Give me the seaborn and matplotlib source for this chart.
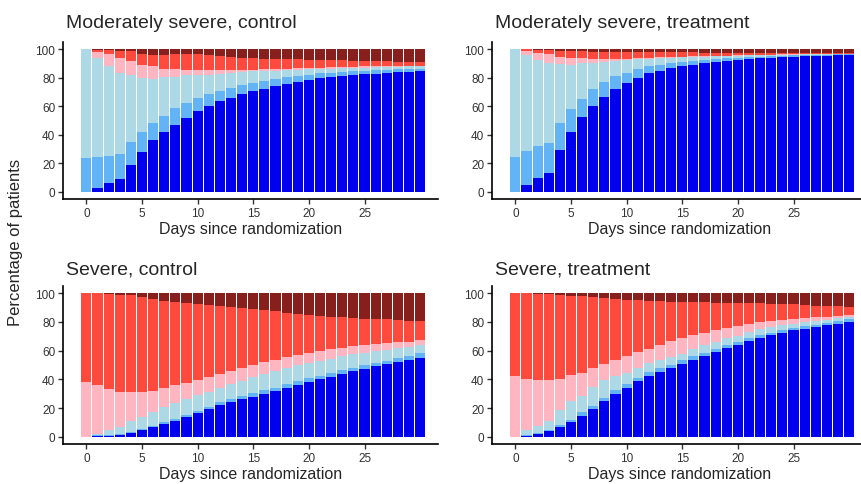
import matplotlib.pyplot as plt
import seaborn as sns

# days since randomization (one bar per day)
days = list(range(31))
tick_days = [0, 5, 10, 15, 20, 25]
y_ticks = [0, 20, 40, 60, 80, 100]

titles = ["Moderately severe, control", "Moderately severe, treatment",
          "Severe, control", "Severe, treatment"]

# colours of the states, best (bottom) to worst (top)
state_colors = ["#0000EE", "#63B3F7", "#ADD8E6", "#FFB6C1", "#FF4A3D", "#87201D"]

# cumulative percentage of patients up to the top of each band
# moderately severe, control
mc_1 = [0, 3, 6, 9, 19, 28, 36, 42, 47, 52, 56.5, 60, 63.4, 66, 68.3, 70.4, 72.3, 74, 75.4, 77,
        78.4, 79.6, 80.5, 81.2, 81.9, 82.4, 82.9, 83.3, 83.8, 84.3, 85]
mc_2 = [24, 24.6, 25.4, 26.5, 35.2, 42.3, 48.1, 53.5, 58.5, 62.4, 65.7, 68.3, 70.7, 73, 74.9, 76.5,
        77.9, 79.1, 80.3, 81.2, 82.2, 83, 83.6, 84, 84.5, 85, 85.2, 85.7, 85.9, 86.2, 86.4]
mc_3 = [100, 93.7, 88.3, 83.6, 82.2, 80, 79.3, 80.5, 80.5, 81.7, 81.9, 82.2, 82.4, 83.6, 84.3, 84.5,
        84.7, 85, 85.2, 85.7, 85.9, 86.2, 86.4, 86.6, 86.9, 87.1, 87.3, 87.5, 87.8, 87.9, 88]
mc_4 = [100, 98.1, 96.5, 94.1, 91.8, 88.7, 88.3, 86.4, 85.9, 85.7, 85.4, 85.2, 85.2, 85.3, 85.5, 85.7,
        85.9, 86.1, 86.3, 86.6, 86.9, 87.1, 87.3, 87.5, 87.7, 87.9, 88, 88.1, 88.3, 88.4, 88.5]
mc_5 = [100, 99.5, 99.5, 99, 98.8, 96.5, 95.8, 95.8, 96.5, 96.5, 96.3, 95.8, 95.3, 94.8, 94.1, 93.7,
        93.4, 93.3, 93.2, 93, 92.7, 92.6, 92.5, 92.3, 92, 91.8, 91.5, 91.5, 91.3, 91, 91]

# moderately severe, treatment
mt_1 = [0, 5, 9.5, 13, 29.5, 42, 52.5, 60, 66.5, 72, 76.5, 80, 83, 85, 86.5, 88, 89, 90, 91, 92,
        92.5, 93, 93.5, 94, 94.3, 94.6, 95, 95.3, 95.5, 95.8, 96]
mt_2 = [24.5, 28.5, 32, 34.5, 48, 58, 65, 72, 77, 81, 83.5, 86, 88, 89, 90, 91, 92, 92.7, 93.2, 93.7,
        94, 94.4, 94.8, 95.1, 95.3, 95.6, 95.8, 96, 96.1, 96.3, 96.4]
mt_3 = [100, 96, 92.5, 90, 89.5, 89, 90, 90.5, 91.3, 92, 92.5, 93, 93.4, 93.8, 94.1, 94.4, 94.6, 94.8,
        95, 95.2, 95.4, 95.6, 95.8, 96, 96.1, 96.2, 96.3, 96.4, 96.5, 96.6, 96.7]
mt_4 = [100, 98.5, 97.5, 96.5, 94.8, 94, 93.5, 93, 93, 93.2, 93.4, 93.6, 93.9, 94.2, 94.5, 94.7, 94.9,
        95.1, 95.3, 95.5, 95.7, 95.9, 96, 96.2, 96.3, 96.4, 96.5, 96.6, 96.7, 96.8, 96.9]
mt_5 = [100, 99.8, 99.5, 99.3, 99, 98.6, 98.4, 98.3, 98.3, 98.3, 98.2, 98.2, 98.1, 98, 97.9, 97.8,
        97.7, 97.6, 97.6, 97.5, 97.5, 97.4, 97.4, 97.3, 97.3, 97.3, 97.2, 97.2, 97.2, 97.2, 97.2]

# severe, control
sc_1 = [0, 0.3, 0.7, 1.4, 2.6, 4.5, 6.6, 8.7, 11.3, 13.8, 16.5, 19.2, 22.1, 24, 26, 28, 30, 32, 34,
        36.2, 38.3, 40, 41.8, 43.7, 45.5, 47.4, 49.1, 50.5, 52, 53.5, 55]
sc_2 = [0, 1, 1.4, 2, 3.5, 5.4, 7.7, 10.1, 12.7, 15.5, 18.3, 21, 24, 26.2, 28.3, 30.3, 32.3, 34.3,
        36.5, 38.6, 40.8, 42.6, 44.4, 46.3, 48.1, 49.9, 51.6, 53, 54.6, 56.2, 58.5]
sc_3 = [0, 2, 4.5, 6.6, 11, 14, 17, 20.5, 23.5, 26.5, 29, 31.5, 34, 36.5, 39, 41.5, 43.8, 46, 48, 50,
        51.5, 53, 54.5, 56, 57.3, 58.5, 59.6, 60.6, 61.6, 62.5, 63.6]
sc_4 = [38.5, 36, 33.6, 31.5, 31.5, 31.5, 32, 33.8, 35.9, 37.8, 39.4, 41.8, 43.7, 45.5, 47.9, 50,
        52.1, 53.8, 55.4, 57, 58.5, 59.6, 61, 62, 62.9, 63.8, 64.3, 65, 65.7, 66.3, 67.1]
sc_5 = [100, 100, 99.5, 98.8, 98.4, 97.2, 95.8, 94.8, 94.1, 93.4, 92.5, 91.8, 91, 90.1, 89.4, 88.7,
        88, 87.3, 86.4, 85.7, 84.7, 84, 83.6, 83.1, 82.6, 82.2, 81.9, 81.7, 81.2, 80.8, 80.5]

# severe, treatment
st_1 = [0, 0.5, 1.9, 4, 6.8, 10.5, 14.7, 19.6, 24.8, 30, 34.1, 38.6, 42.5, 45.3, 47.9, 50.7, 53.7,
        56.3, 59.1, 61.7, 64, 66.6, 68.7, 70.6, 72.4, 74.1, 75.2, 76.4, 77.6, 78.8, 80.1]
st_2 = [0, 1, 2.8, 4.9, 7.9, 11.9, 17.1, 21.5, 27.1, 32.5, 36.9, 41.1, 45.1, 47.7, 50.2, 53.3, 56.1,
        58.6, 61.2, 63.6, 65.9, 68.7, 70.8, 72.4, 74.1, 75.7, 77.1, 78, 79, 80.3, 81.8]
st_3 = [0, 4.9, 7.7, 11.2, 18.7, 24.8, 28.7, 34.6, 39.3, 42, 44.4, 48.1, 51.4, 53.7, 55.4, 57.9,
        61.2, 63.8, 66.1, 68.5, 70.3, 72.7, 74.8, 76.2, 77.8, 78.5, 79.7, 80.4, 81.3, 82.5, 83.6]
st_4 = [42, 40.4, 39.7, 39.3, 40.4, 42.8, 44.4, 47.9, 50.9, 53.7, 56.3, 59.1, 61.2, 63.8, 66.8, 68.9,
        70.8, 72.4, 74.3, 75.9, 77.3, 78.5, 79.7, 80.8, 81.3, 82.2, 82.7, 83.2, 83.6, 84.1, 84.8]
st_5 = [100, 100, 99.5, 99.3, 98.8, 98.1, 98.1, 97.2, 96.5, 95.8, 95.3, 94.9, 94.4, 94.2, 93.7, 93.7,
        93.5, 93.5, 93.2, 93.2, 93, 93, 92.8, 92.5, 92.5, 92.3, 91.8, 91.4, 91.1, 90.9, 90.7]

# top band (death) always reaches 100
total = [100] * len(days)

panels = [
    [mc_1, mc_2, mc_3, mc_4, mc_5, total],
    [mt_1, mt_2, mt_3, mt_4, mt_5, total],
    [sc_1, sc_2, sc_3, sc_4, sc_5, total],
    [st_1, st_2, st_3, st_4, st_5, total],
]

sns.set_style("ticks")
plt.rcParams["font.family"] = ["Liberation Sans", "DejaVu Sans"]

fig = plt.figure(figsize=(8.61, 4.85), dpi=100)

# axes boxes in figure fractions
boxes = [
    [0.0732, 0.5876, 0.4355, 0.3237],
    [0.5714, 0.5876, 0.4355, 0.3237],
    [0.0732, 0.0825, 0.4355, 0.3258],
    [0.5714, 0.0825, 0.4355, 0.3258],
]
title_y = [0.9423, 0.9423, 0.435, 0.435]

for box, layers, title, ty in zip(boxes, panels, titles, title_y):
    ax = fig.add_axes(box)
    # draw the tallest band first and lay the lower bands on top of it
    for cum, col in zip(layers[::-1], state_colors[::-1]):
        sns.barplot(x=days, y=cum, color=col, saturation=1, width=0.91,
                    linewidth=0, errorbar=None, ax=ax)
    ax.set_xlim(-2.1, 31.6)
    ax.set_ylim(-5, 105)
    ax.set_xticks(tick_days)
    ax.set_xticklabels([str(d) for d in tick_days])
    ax.set_yticks(y_ticks)
    ax.set_yticklabels([str(v) for v in y_ticks])
    ax.tick_params(axis="both", labelsize=8.5, length=3.5, width=1,
                   colors="#333333", labelcolor="#333333", pad=2)
    for side in ["left", "bottom"]:
        ax.spines[side].set_linewidth(1.2)
        ax.spines[side].set_color("black")
    sns.despine(ax=ax)
    ax.set_xlabel("Days since randomization", fontsize=11.5, labelpad=2)
    ax.set_ylabel("")
    fig.text(box[0] + 3 / 861, ty, title, fontsize=14, va="baseline", ha="left")

fig.text(0.018, 0.5, "Percentage of patients", rotation=90, fontsize=12,
         va="center", ha="center")

plt.savefig("out.png", dpi=100)
